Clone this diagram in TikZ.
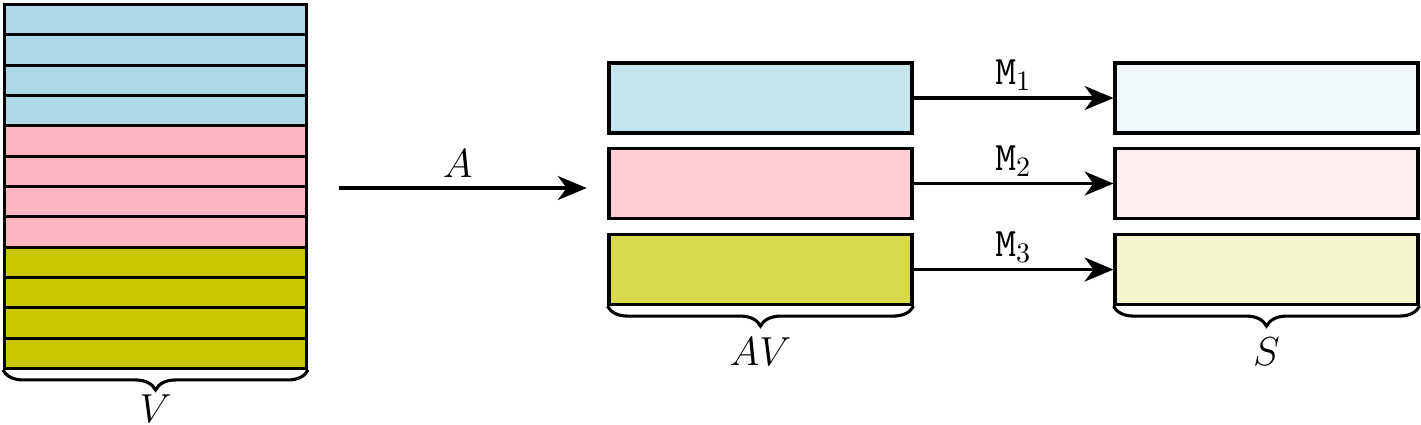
\documentclass[tikz,border=0pt]{standalone}
\usepackage{amsmath}
\usetikzlibrary{arrows.meta,decorations.pathreplacing,positioning}
\definecolor{vblue}{HTML}{ADD8E6}
\definecolor{vpink}{HTML}{FFB6C1}
\definecolor{volive}{HTML}{C8C800}

\begin{document}
\begin{tikzpicture}[
    strip/.style={draw, line width=1.1pt, inner sep=0pt, minimum width=3.775cm,
      minimum height=0.379cm, anchor=north west},
    blk/.style={draw, line width=1.1pt, inner sep=0pt, minimum width=3.7875cm,
      minimum height=0.875cm},
    arr/.style={-{Stealth[length=3.6mm,width=3mm,inset=1.1mm]}, line width=1.1pt},
    brc/.style={decorate, decoration={brace,amplitude=0.25cm}, line width=1.1pt},
    lbl/.style={font=\Large},
  ]
  \useasboundingbox (0,0) rectangle (17.7625,-5.3);
  \def\h{0.379}
  \def\xa{9.506}
  \def\xs{15.831}
  % the stack V
  \foreach \i/\c in {0/vblue,1/vblue,2/vblue,3/vblue,4/vpink,5/vpink,6/vpink,7/vpink,
      8/volive,9/volive,10/volive,11/volive}
    \node[strip, fill=\c] (V\i) at (0.0375, -0.0375-\i*\h) {};
  % AV and S
  \node[blk, fill=vblue!70] (AV1) at (\xa,-1.225) {};
  \node[blk, fill=vpink!70] (AV2) at (\xa,-2.294) {};
  \node[blk, fill=volive!70] (AV3) at (\xa,-3.369) {};
  \node[blk, fill=vblue!20] (S1) at (\xs,-1.225) {};
  \node[blk, fill=vpink!22] (S2) at (\xs,-2.294) {};
  \node[blk, fill=volive!20] (S3) at (\xs,-3.369) {};
  % arrows
  \draw[arr, shorten <=0.39cm, shorten >=0.26cm] (V5.south east) -- (V5.south east -| AV2.west)
    node[midway, above, lbl] {$A$};
  \foreach \i in {1,2,3}
    \draw[arr] (AV\i) -- (S\i) node[midway, above, inner sep=2pt, lbl] {$\mathtt{M}_\i$};
  % braces
  \draw[brc] (V11.south east) -- (V11.south west);
  \node[lbl, inner sep=0pt] (Vlbl) at ([yshift=-0.49cm]V11.south) {$V$};
  \draw[brc] (AV3.south east) -- (AV3.south west);
  \node[lbl] (AVlbl) at ([yshift=-0.575cm]AV3.south) {$AV$};
  \draw[brc] (S3.south east) -- (S3.south west);
  \node[lbl] (Slbl) at ([yshift=-0.575cm]S3.south) {$S$};
\end{tikzpicture}
\end{document}
